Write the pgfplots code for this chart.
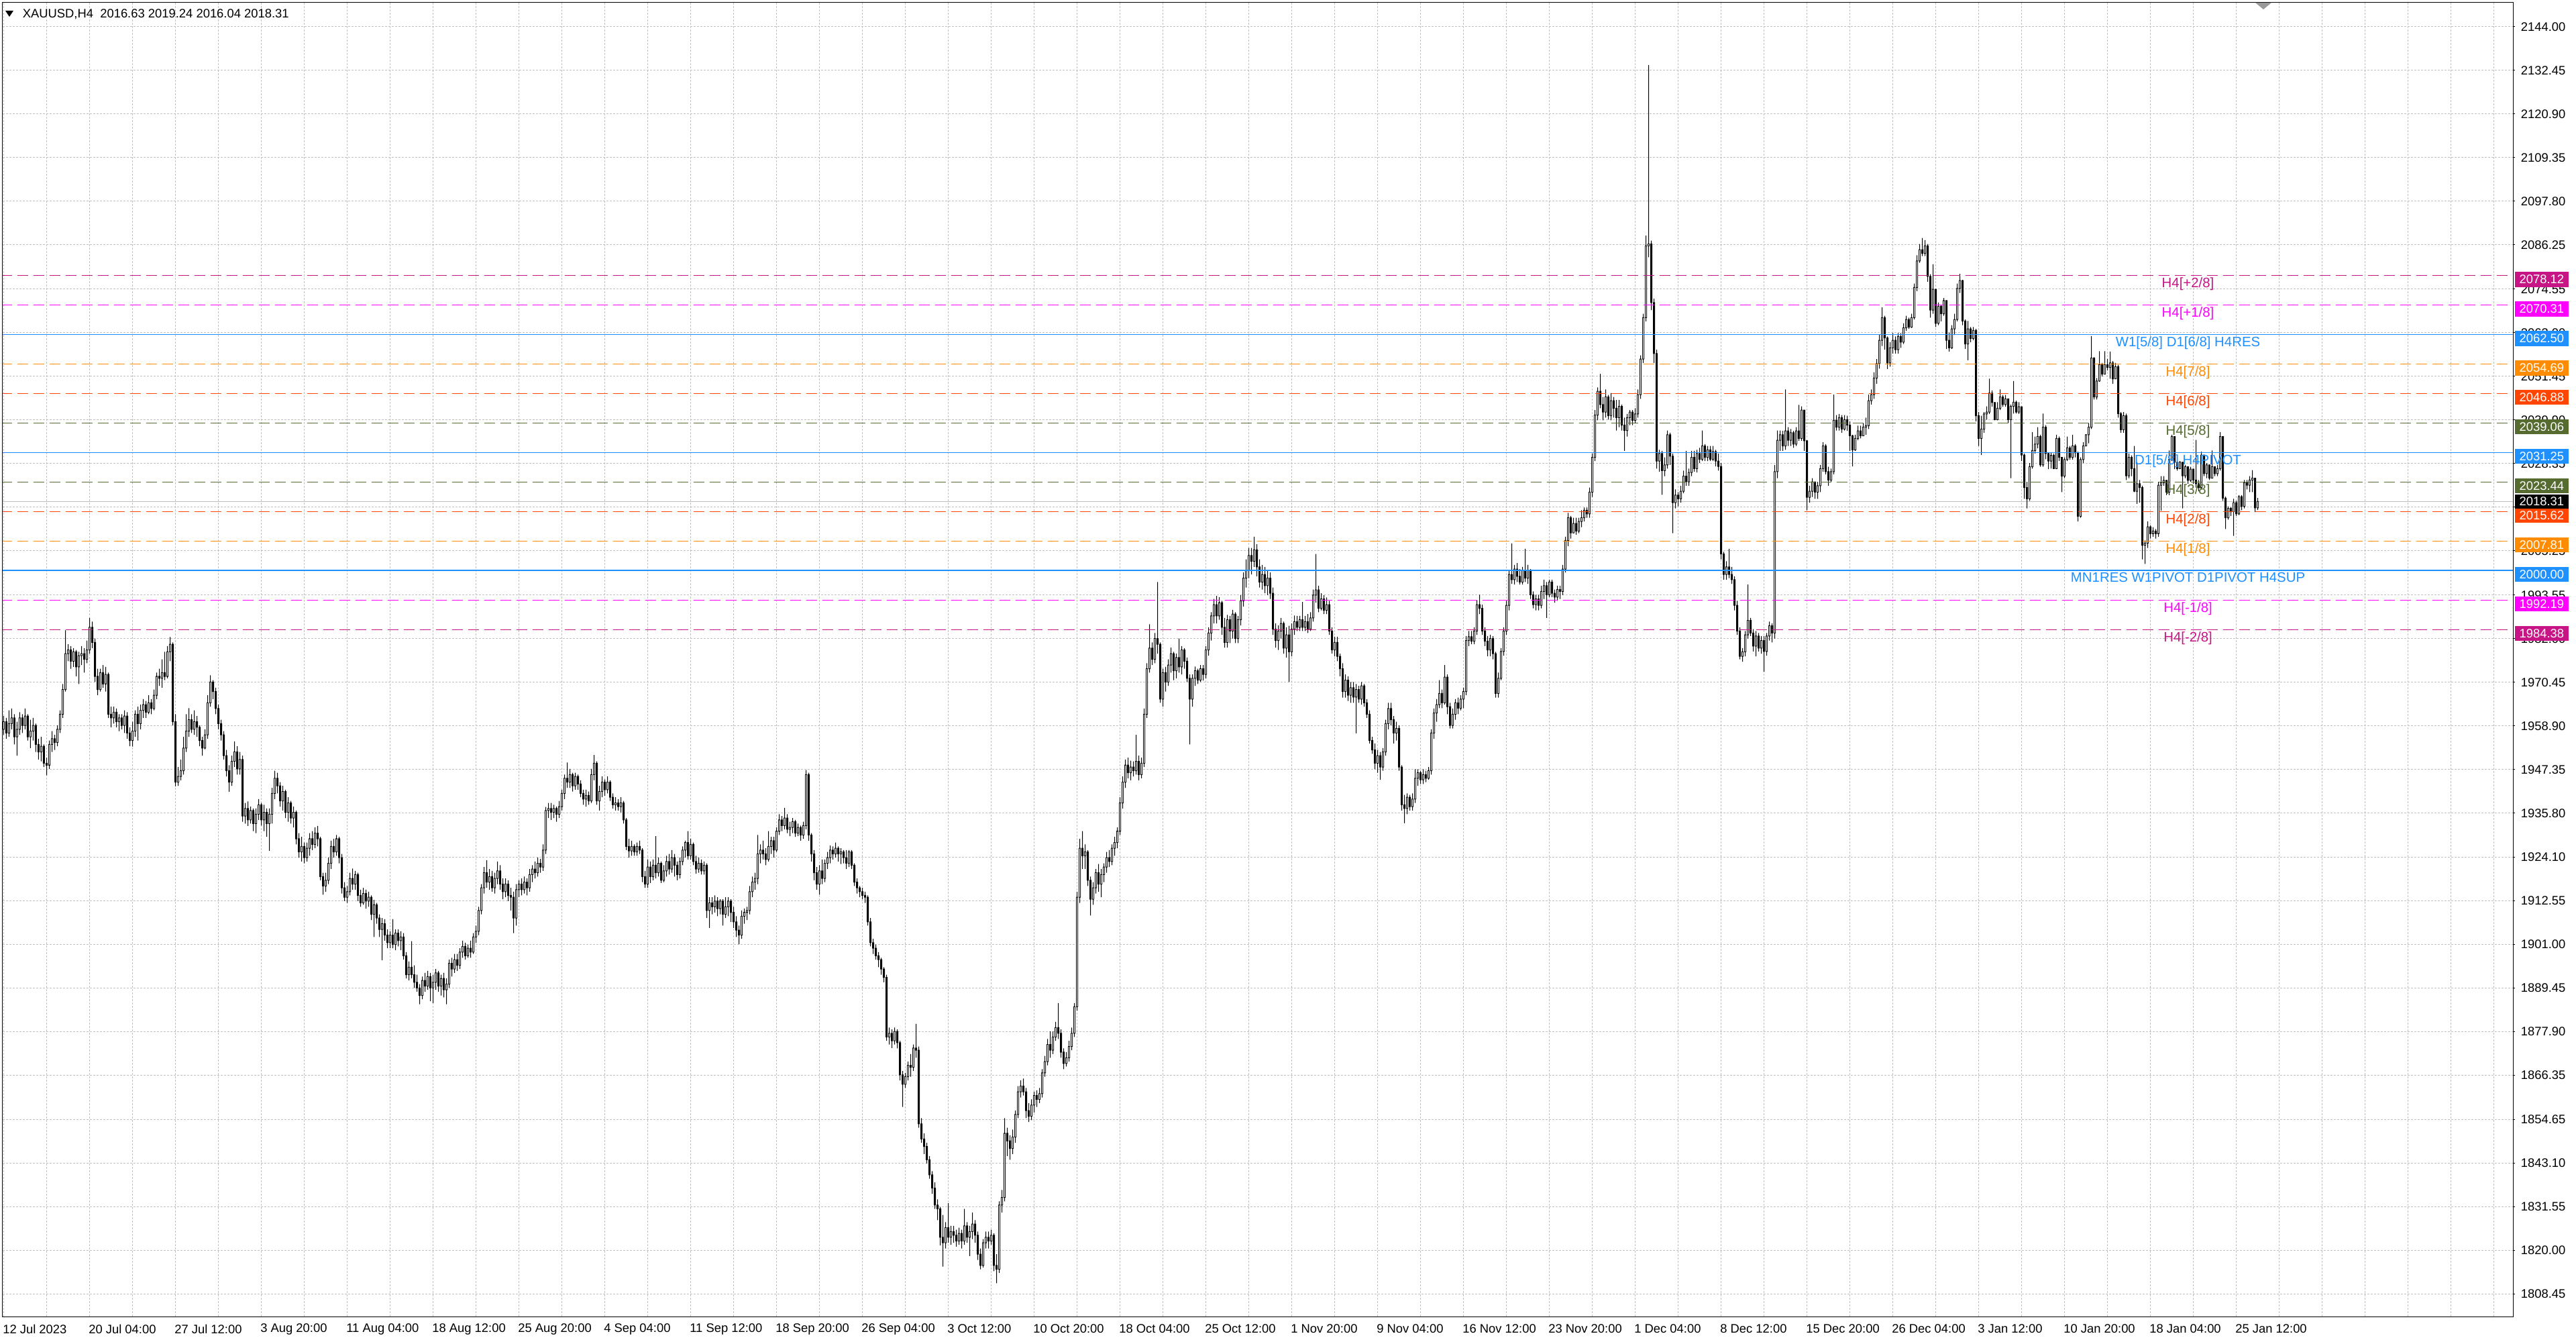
\documentclass[border=0pt]{standalone}
\usepackage{fontspec}
\setmainfont{Liberation Sans}
\usepackage{pgfplots}
\usepackage{pgfplotstable}
\pgfplotsset{compat=1.18}

\definecolor{mvred}{HTML}{C71585}
\definecolor{mag}{HTML}{FF00FF}
\definecolor{dblue}{HTML}{1E90FF}
\definecolor{dorange}{HTML}{FF8C00}
\definecolor{ored}{HTML}{FF4500}
\definecolor{olive}{HTML}{556B2F}
\definecolor{gridc}{HTML}{C0C0C0}

\newcommand{\tkfont}{\fontsize{4.6pt}{5.5pt}\selectfont}
\newcommand{\lvfont}{\fontsize{5.1pt}{6pt}\selectfont}

\pgfplotsset{
    base/.style={scale only axis, width=935.5pt, height=489.5pt,
        at={(0pt,0pt)}, anchor=south west, enlargelimits=false,
        xmin=-0.375, xmax=935.125, ymin=1802.49, ymax=2150.39},
    stackaxis/.style={base, hide axis, ybar stacked, bar shift=0pt},
    lvl/.style={forget plot, line width=0.25pt, dash pattern=on 4pt off 2pt},
}
\tikzset{
    lbl/.style={anchor=north, inner sep=0pt, yshift=-0.6pt, font=\lvfont},
    pbox/.style={fill=#1, text=white, anchor=west, inner sep=0pt,
        minimum width=20pt, minimum height=5.65pt, font=\tkfont},
}

% XAUUSD H4, one row per bar: high low close (open = close of the bar before)
\pgfplotstableread[row sep=\\]{
h l c\\
1961.5 1956.5 1960\\ 1961 1955.5 1957\\ 1963 1956 1959.5\\ 1963.5 1958 1961\\ 1962 1954 1956\\ 1960 1951 1958\\ 1962.5 1956.5 1961\\ 1962 1957 1959\\ 1963.5 1958 1961.5\\ 1962 1955 1956\\
1960.5 1953 1957.5\\ 1961 1955 1959\\ 1959.5 1952 1954\\ 1955.5 1950 1952\\ 1956 1949.5 1953.5\\ 1954 1948 1949\\ 1950.5 1945.8 1948.5\\ 1955 1947.5 1954\\ 1957.5 1952 1955.5\\ 1956.5 1952.5 1954.5\\
1959 1953.5 1958\\ 1963 1957 1962\\ 1970 1961 1968.5\\ 1984.2 1968 1978\\ 1980.5 1976 1979\\ 1980 1974 1976\\ 1979.5 1974.5 1978.5\\ 1979 1972 1974.5\\ 1978.5 1970 1977.5\\ 1980 1975 1978\\
1979.5 1973 1976.5\\ 1981.5 1975.5 1979\\ 1987.5 1978 1985\\ 1986.5 1979.5 1981\\ 1982 1970.5 1972\\ 1974 1967 1968.5\\ 1974 1968 1973\\ 1975 1969 1970\\ 1974.5 1968 1972.5\\ 1973 1961 1962\\
1964 1958.5 1961\\ 1964 1959.5 1962.5\\ 1963.5 1958.5 1960\\ 1962 1957.5 1961\\ 1962 1958 1959\\ 1963 1957 1961.5\\ 1962.5 1955.5 1957\\ 1958.5 1953.5 1955\\ 1960 1953.4 1957.5\\ 1963 1956 1962\\
1964 1955 1959.5\\ 1964.5 1958 1963\\ 1966 1961 1964.5\\ 1965.5 1961 1962.5\\ 1967 1962 1965\\ 1966 1962 1963.5\\ 1968.5 1963 1967\\ 1973 1966 1972\\ 1974 1969.5 1971.5\\ 1976.5 1969 1973\\
1978.5 1971 1972\\ 1980 1971.5 1978.5\\ 1982.4 1976 1980.5\\ 1981 1959 1960\\ 1962 1942.9 1944\\ 1948 1943 1945.5\\ 1950 1944.5 1947\\ 1956 1946 1953\\ 1962 1952 1957.5\\ 1963.6 1956 1960.5\\
1962 1957 1958\\ 1963 1956.5 1960\\ 1961.5 1956 1958.5\\ 1959 1953.5 1955\\ 1956 1951 1953\\ 1958 1952.7 1956.5\\ 1967 1955.5 1965\\ 1972.3 1964 1970.5\\ 1971 1966 1968\\ 1969 1962 1963.5\\
1964.5 1958 1959.5\\ 1960.5 1955 1956.5\\ 1957.5 1950 1951\\ 1952.5 1945.5 1947\\ 1948.5 1941.4 1944\\ 1951 1943 1949.5\\ 1954.8 1948 1952\\ 1953.5 1946 1947.5\\ 1952 1946 1950\\ 1951 1933.5 1935\\
1938.5 1933 1937\\ 1938.9 1932.4 1934\\ 1937.5 1933 1936.5\\ 1937 1931 1933\\ 1937 1930.5 1935.5\\ 1939.5 1934 1938\\ 1938.5 1932.5 1934\\ 1938 1931 1936\\ 1937 1929.5 1933\\ 1937 1925.8 1935.5\\
1942.5 1933 1941\\ 1947 1939.5 1945\\ 1946.5 1941 1943\\ 1944 1937.5 1939\\ 1943 1936.5 1941.5\\ 1942 1934.5 1936\\ 1940 1933.5 1938.5\\ 1939 1933 1934.5\\ 1937.5 1932 1936\\ 1936.5 1927.5 1929\\
1930.5 1924 1925.5\\ 1929.5 1923 1927\\ 1928 1922.5 1924\\ 1928 1923 1926.5\\ 1930.5 1924.5 1929\\ 1931 1926 1927.5\\ 1932 1926.5 1930.5\\ 1932.4 1927 1929\\ 1929.5 1918 1919\\ 1920 1914.2 1916.5\\
1920 1915 1918\\ 1924 1917 1922.5\\ 1928.5 1921 1927\\ 1929 1924 1925.5\\ 1930 1924.5 1929\\ 1929.5 1922.5 1924\\ 1925 1914.5 1916\\ 1917.5 1912.5 1913.5\\ 1916.5 1912 1915\\ 1920 1914 1918.5\\
1921.1 1915.5 1917\\ 1920.5 1915.5 1919.5\\ 1920 1912.5 1914\\ 1915.5 1911 1912\\ 1916 1911.5 1914.5\\ 1915.5 1910.5 1912.5\\ 1915 1911 1913.5\\ 1914 1907.5 1909\\ 1912.8 1903 1911.5\\ 1912 1906.5 1908\\
1909 1903 1905\\ 1908 1896.8 1906.5\\ 1907.7 1902 1903.5\\ 1905 1900 1901.5\\ 1904.5 1900 1903.5\\ 1907.7 1900 1901\\ 1905 1899.5 1904\\ 1905 1900.5 1902\\ 1904.5 1899.5 1903\\ 1904 1897 1898\\
1899 1892 1893\\ 1896.5 1891.5 1895\\ 1901.9 1892 1893\\ 1895.5 1889.5 1891\\ 1893 1888.5 1889.5\\ 1890.5 1885.2 1887.5\\ 1892.5 1886.5 1891.5\\ 1893.5 1888.5 1890\\ 1894 1889 1892.5\\ 1893.5 1886 1889.5\\
1893 1885.5 1891\\ 1894.5 1889 1893.5\\ 1894 1888.5 1890\\ 1893 1887.5 1892\\ 1893.5 1887 1889\\ 1892 1885.2 1890.5\\ 1897 1889.5 1896\\ 1897.5 1892.5 1894.5\\ 1898.5 1893.5 1897\\ 1898.5 1894 1895.5\\
1900 1894.5 1899\\ 1902 1897.5 1900.5\\ 1901.5 1897 1898\\ 1901 1897.5 1900\\ 1902 1897.5 1899\\ 1904 1898.5 1903\\ 1906 1901.5 1904.5\\ 1911 1903.5 1910\\ 1917 1909 1916\\ 1921.5 1914.5 1920\\
1923.3 1916 1917.5\\ 1921 1915.5 1919\\ 1920.5 1915 1916\\ 1920 1914.5 1918.5\\ 1923 1917 1920.5\\ 1922 1915.5 1917\\ 1918.5 1913 1915\\ 1918.5 1913.5 1917\\ 1918 1912.5 1914\\ 1916 1910 1913.5\\
1915 1904 1908\\ 1917 1906 1915.5\\ 1918 1913.5 1917\\ 1918.5 1914 1915.5\\ 1919 1914.5 1917.5\\ 1918.5 1914 1916\\ 1921 1915 1919.5\\ 1922 1917.5 1921\\ 1923 1918.5 1920\\ 1924 1919 1922.5\\
1923.7 1920 1921.5\\ 1927.5 1920.5 1926\\ 1937.4 1925 1936.5\\ 1938.5 1934.5 1937\\ 1938.5 1934 1936\\ 1938 1934.5 1937\\ 1937.5 1933.5 1935.5\\ 1939 1934.5 1937.5\\ 1942 1936.5 1941\\ 1946 1939.5 1945\\
1949.2 1942.5 1944\\ 1947.5 1942.5 1946\\ 1946.5 1941.5 1943\\ 1946.5 1942 1945.5\\ 1946 1942 1943.5\\ 1944.5 1940 1941\\ 1942 1938 1939.5\\ 1942 1937.5 1940.5\\ 1941.5 1938 1939\\ 1947.5 1938.5 1946\\
1951.2 1944.5 1949\\ 1949.5 1938 1939\\ 1943 1936.5 1941.5\\ 1945.5 1940 1944\\ 1944.7 1940.4 1942\\ 1945.5 1941 1944\\ 1944.5 1939 1940\\ 1941 1937 1938\\ 1940 1936.5 1938.5\\ 1939.5 1936.5 1937.5\\
1940 1936 1938.5\\ 1939 1933 1934\\ 1934.5 1926 1927\\ 1929 1924 1925.8\\ 1928.5 1924.5 1927\\ 1927.5 1924.5 1925.5\\ 1928 1924.5 1927\\ 1928.5 1925 1926\\ 1926.5 1917.5 1919\\ 1920.5 1916 1917\\
1923.5 1916 1921.5\\ 1923 1917.3 1919\\ 1923.5 1918 1922\\ 1929.7 1918.5 1920\\ 1924 1919 1922.5\\ 1923 1917.3 1918\\ 1922 1917.5 1920.5\\ 1924.5 1919 1923\\ 1925 1919.5 1921\\ 1926 1920 1924\\
1925 1919 1922\\ 1923 1918 1919.5\\ 1924 1918.5 1923\\ 1927 1922 1926\\ 1928.5 1924 1928\\ 1931 1923.5 1924.5\\ 1929 1923.5 1927.5\\ 1928 1922 1923\\ 1924.5 1919.8 1921\\ 1924 1920 1922.5\\
1923.5 1919.5 1920.5\\ 1923 1919.5 1922\\ 1922.5 1908 1910\\ 1913.5 1905.4 1912\\ 1913.5 1909 1911\\ 1914 1909.5 1912.5\\ 1913.5 1908.5 1910.5\\ 1913 1909 1912.5\\ 1913 1906 1909\\ 1913.5 1908 1911\\
1913.5 1908.5 1912.5\\ 1913 1907 1909.5\\ 1911 1905.4 1907\\ 1908.5 1903 1904.8\\ 1906 1901.1 1903.5\\ 1910 1902.5 1908.5\\ 1910.5 1906.5 1909.5\\ 1911 1907.5 1910\\ 1916.5 1909 1915\\ 1919 1913.5 1917.5\\
1920 1915.5 1918.5\\ 1930 1917 1925\\ 1927.5 1922.5 1926\\ 1928.5 1923.5 1925\\ 1926.5 1922 1923.5\\ 1931 1923 1927\\ 1929.5 1925 1928.5\\ 1929.5 1924 1926\\ 1932 1925.5 1931\\ 1935.5 1930 1934\\
1935 1931 1932.5\\ 1937.2 1931.5 1934.5\\ 1935.5 1930.5 1931.5\\ 1933.5 1929.7 1932\\ 1934.5 1930.5 1933.5\\ 1934 1929.5 1930.5\\ 1933 1929.7 1932\\ 1932.5 1928.5 1930\\ 1933.5 1929 1932.5\\ 1947.2 1931.5 1946\\
1946.5 1928.5 1930\\ 1930.5 1923 1925\\ 1926 1918 1920\\ 1921.5 1915.5 1917\\ 1922 1914.2 1920.5\\ 1923.5 1917 1918.5\\ 1923.5 1917.5 1922.5\\ 1925.5 1921 1924\\ 1927.2 1922.5 1926\\ 1927 1923.5 1925\\
1928 1924 1926.5\\ 1927 1923 1925\\ 1926.5 1922.3 1925.5\\ 1926 1922.5 1924\\ 1926 1921 1922.5\\ 1926 1921.5 1925.5\\ 1926 1921 1922\\ 1922.5 1916.5 1917.5\\ 1918.5 1914.5 1916\\ 1916.5 1913.5 1915\\
1916 1913 1914\\ 1915 1912 1913.5\\ 1914 1906 1907\\ 1908 1900.5 1901.5\\ 1902.5 1898.5 1900\\ 1901 1897 1898\\ 1899 1895 1897\\ 1897.5 1893 1894.5\\ 1895 1891 1892.3\\ 1893 1875.5 1876.5\\
1879 1874.5 1877.5\\ 1878.5 1873.6 1875.5\\ 1879 1874.5 1878\\ 1878.5 1873.5 1875\\ 1875.5 1865 1866.5\\ 1867.5 1858 1864\\ 1867 1863 1866\\ 1870 1865 1869\\ 1872 1866 1868.5\\ 1874.5 1867.5 1873.6\\
1880 1871 1873\\ 1874 1852.5 1853.5\\ 1855 1848.5 1849.5\\ 1851 1845.5 1847.5\\ 1848.5 1843 1844\\ 1845 1839 1840\\ 1841 1835 1836.5\\ 1838 1831 1832\\ 1833.5 1828 1831\\ 1831.5 1821.3 1823.5\\
1829.4 1815.7 1822\\ 1827.5 1820.5 1826\\ 1832.5 1822 1823.5\\ 1826.5 1821.5 1825\\ 1826.5 1822 1824\\ 1825.5 1821 1822.5\\ 1826 1821.5 1824.5\\ 1825.5 1820.5 1822.5\\ 1831 1821.5 1826.5\\ 1827.5 1822 1823.5\\
1826.5 1818.5 1825\\ 1830 1823 1827\\ 1828 1822 1824\\ 1825 1817.5 1819\\ 1820.5 1815 1816\\ 1823 1815.5 1822\\ 1825 1820.5 1823.5\\ 1825 1820.5 1822.5\\ 1825.5 1821.5 1824\\ 1824.5 1814.5 1816\\
1819 1811.3 1815\\ 1833 1814 1832\\ 1836 1830 1834\\ 1855 1833 1851\\ 1852.5 1845 1849\\ 1850.5 1844 1847\\ 1852 1845.5 1850\\ 1857 1848.5 1856\\ 1863.5 1855 1862\\ 1865 1860.5 1863.5\\
1865.5 1861 1862\\ 1863 1855 1857\\ 1859 1854 1855.5\\ 1860 1854.5 1858.5\\ 1862 1856.5 1861\\ 1862.4 1858 1860\\ 1863 1859 1861.5\\ 1868 1860.5 1867\\ 1871.5 1866 1870\\ 1876 1869 1874.5\\
1878 1871 1873\\ 1878 1872 1876.5\\ 1880.5 1875.5 1879\\ 1885.5 1876 1877.5\\ 1878.5 1871 1872.5\\ 1873.5 1868 1869.5\\ 1872.5 1868.7 1871\\ 1875.5 1870 1874\\ 1879 1873 1877.5\\ 1885.5 1876.5 1884.5\\
1915 1883.5 1913.5\\ 1929 1912 1926.5\\ 1931 1921 1924.5\\ 1927.5 1921 1925.5\\ 1926 1916.5 1918\\ 1919 1908.7 1913\\ 1917.5 1911.5 1916\\ 1921 1914.5 1920\\ 1922.3 1915 1917\\ 1921 1913.5 1919.5\\
1922.5 1917.5 1921.5\\ 1925.5 1920 1924\\ 1926 1921.5 1923\\ 1927.5 1922 1926.5\\ 1929.5 1924.5 1928\\ 1932 1926.5 1931\\ 1940 1930 1938.5\\ 1945.5 1937 1944\\ 1950 1942.5 1948.5\\ 1950.5 1945 1946.5\\
1949.7 1944.5 1948\\ 1949.5 1945.5 1947\\ 1956.5 1946 1949.5\\ 1951 1944.5 1946\\ 1950.5 1945 1949\\ 1963.5 1948 1962\\ 1975.5 1961 1974\\ 1985.8 1973 1979.5\\ 1981 1975 1976.5\\ 1983.5 1975.5 1982\\
1997 1978 1980.5\\ 1981 1965 1966\\ 1974 1964 1973\\ 1974.5 1968 1970.5\\ 1976.5 1969.5 1975\\ 1979.6 1973 1978\\ 1978.5 1971 1973.5\\ 1978 1971.5 1977\\ 1982 1973 1974.5\\ 1980 1972.5 1979\\
1979.5 1974 1976\\ 1977 1970.5 1971.5\\ 1972.5 1954 1966\\ 1972.5 1964 1971.5\\ 1974.6 1969.5 1973.5\\ 1974 1970 1971\\ 1975 1970.5 1974\\ 1975 1970.9 1972.5\\ 1980 1971.5 1979\\ 1985 1977.5 1983.5\\
1989 1981.5 1988\\ 1992.5 1986 1991\\ 1993.3 1986 1988\\ 1993 1987 1991.5\\ 1992 1983 1985\\ 1987.5 1979.6 1981\\ 1988.3 1979.6 1987\\ 1988 1980.8 1984\\ 1989.6 1982 1988.5\\ 1989 1980.8 1982\\
1988 1980.8 1987\\ 1993.5 1985.5 1992\\ 1999.5 1990.5 1998\\ 2003 1995.5 2000\\ 2006 1998 2004\\ 2006 1999 2002.5\\ 2009 2001 2005.5\\ 2007 1998.5 2001\\ 2003 1995.5 1997\\ 2001.5 1995 1999\\
2001 1994 1996\\ 2000 1993.5 1998\\ 1999.5 1992.5 1994\\ 1995.5 1983 1984.5\\ 1986 1979.6 1981.5\\ 1985.5 1979 1984\\ 1987.5 1982 1986\\ 1986.5 1978 1979.5\\ 1985 1977 1983\\ 1985.4 1970.5 1978.5\\
1986 1977.3 1984.5\\ 1988.1 1983 1986.5\\ 1988 1984 1985\\ 1988 1984 1987\\ 1991.7 1984 1985\\ 1988 1984 1986.5\\ 1988.5 1983.5 1984.5\\ 1989 1984 1987.5\\ 1995 1986.5 1993.5\\ 2004.4 1991.5 1994.9\\
1996 1989 1990\\ 1994 1989.5 1992.5\\ 1993.5 1988.5 1989.5\\ 1992.9 1988.5 1991\\ 1992 1983 1984\\ 1985 1978 1979\\ 1982.5 1977.3 1981\\ 1982.5 1976 1977.3\\ 1978 1972 1974\\ 1975.5 1966.4 1968\\
1972.5 1966.4 1971\\ 1972 1965.5 1967\\ 1970.5 1965 1969\\ 1970.5 1965 1966.5\\ 1970 1956.9 1968.5\\ 1969.5 1965 1966\\ 1970.5 1964.5 1969.5\\ 1970 1964 1965\\ 1966 1961 1962\\ 1963 1954.2 1955\\
1956 1951.5 1952.5\\ 1954.2 1947.4 1949\\ 1952.5 1946.5 1951\\ 1952 1944.6 1948\\ 1953 1947 1952\\ 1960.5 1951 1959.5\\ 1965 1958 1963.5\\ 1965 1959 1960.5\\ 1961.5 1954.2 1957\\ 1960 1955 1958.2\\
1959 1947 1948\\ 1948.5 1936.5 1938\\ 1940.6 1933.1 1937\\ 1941 1935.5 1940\\ 1940.6 1936.5 1937.5\\ 1941 1936.5 1939.5\\ 1947.4 1938.5 1945\\ 1947.4 1943 1946.5\\ 1947 1943.5 1944.6\\ 1947.4 1943.5 1946\\
1947 1944 1945\\ 1948 1944.6 1947\\ 1958 1946 1957\\ 1963.5 1955.5 1962.3\\ 1966 1960 1964.5\\ 1971 1963.6 1967.5\\ 1968.5 1963.6 1965\\ 1975 1964.5 1971.8\\ 1972.5 1962 1964\\ 1965 1958.2 1959\\
1963.5 1958.2 1962\\ 1966 1960.5 1965\\ 1966.4 1962 1963.6\\ 1967 1963 1966\\ 1969 1963.6 1968\\ 1982.7 1967 1981.5\\ 1984 1980 1982.5\\ 1984 1980.5 1981.3\\ 1985 1980.5 1984\\ 1992.2 1983 1991\\
1993.6 1988.5 1990\\ 1991 1983 1984\\ 1985 1980 1981.3\\ 1982.7 1977.3 1979\\ 1983 1977.3 1982\\ 1982.7 1976.5 1978\\ 1978.5 1966.4 1967.5\\ 1973 1966.4 1971.5\\ 1979.5 1971 1978.6\\ 1985 1977.5 1984\\
1992 1983 1990.8\\ 2000 1989.5 1999\\ 2007.2 1996.5 1997.6\\ 2001.5 1996.3 2000.4\\ 2002 1997 1998.5\\ 2000.4 1996.3 1997\\ 2001 1996.3 2000\\ 2005.8 1997 1998\\ 2001.5 1996.5 2000\\ 2000.4 1992.5 1993.6\\
1994.5 1990 1991\\ 1993.6 1989.5 1992.5\\ 1993.6 1989.5 1990.8\\ 1996 1990 1994.5\\ 1997.6 1992.5 1996\\ 1997 1987.5 1993.6\\ 1997.6 1993 1997\\ 1997.6 1993 1994\\ 1995 1991.5 1993\\ 1996 1992 1995\\
1996 1992.5 1994.5\\ 2001.5 1993.5 2000.4\\ 2009 1999.5 2008\\ 2015.3 2006.5 2014\\ 2014.5 2008.5 2010\\ 2014 2009.9 2012.5\\ 2014 2009.5 2010.5\\ 2014 2009.9 2013\\ 2016 2011.5 2014\\ 2016.7 2013 2016\\
2016.7 2014 2015\\ 2022 2014 2020.8\\ 2031 2019.5 2030\\ 2042.5 2029 2041.2\\ 2048.5 2039.8 2047.5\\ 2052.1 2043 2044\\ 2046 2039.8 2042\\ 2048 2040.5 2046\\ 2046.5 2040 2041\\ 2047 2039.8 2045\\
2046 2040.5 2043\\ 2045.2 2037.1 2040.5\\ 2045.2 2038 2043.5\\ 2044 2037.1 2038.5\\ 2040.5 2031.7 2037.1\\ 2041.5 2035.5 2040.5\\ 2042.5 2038.5 2042\\ 2042.5 2038.5 2039.8\\ 2043 2039 2041.5\\ 2048 2040.5 2046.6\\
2057 2045.5 2056\\ 2068 2055 2067\\ 2088.7 2066 2086\\ 2133.9 2083 2086.5\\ 2087.4 2069 2071\\ 2072 2055 2057.5\\ 2058.5 2027 2029\\ 2032 2026.2 2031\\ 2031.7 2020.1 2026.5\\ 2030 2025 2028\\
2037.1 2027 2036\\ 2036.5 2028 2030.3\\ 2031 2009.9 2018\\ 2021.5 2016.5 2020\\ 2020.8 2017 2019\\ 2022.5 2018 2021\\ 2026.5 2020.5 2025\\ 2031.7 2022.5 2023.5\\ 2027 2022.5 2026\\ 2031.7 2025 2030\\
2031.7 2026.2 2027\\ 2032 2026 2031\\ 2032.5 2028.5 2029.5\\ 2037.1 2029 2033\\ 2033.5 2029 2030\\ 2033 2029 2032\\ 2033 2029 2029.5\\ 2033 2029 2031.5\\ 2032 2027.6 2029\\ 2031 2026.5 2027.6\\
2028.5 2003 2004.4\\ 2005 1997.6 1999\\ 2002.5 1997.6 2001\\ 2005.8 1998 1999\\ 2001 1996.5 1997.6\\ 1998.5 1989.5 1990.8\\ 1992 1983 1984\\ 1985 1976.5 1977.3\\ 1979.5 1975.9 1978.5\\ 1984 1977.3 1983\\
1996.3 1982 1986.8\\ 1987.5 1982.7 1983.5\\ 1984.5 1978.6 1980\\ 1984 1977.3 1982.7\\ 1983.5 1978.6 1979.5\\ 1982.7 1978 1981.5\\ 1982.7 1973.2 1978.6\\ 1983.5 1977.5 1982.7\\ 1986.5 1981.5 1985.4\\ 1986 1981 1983.5\\
2028 1982 2026.2\\ 2037.1 2024.5 2034.5\\ 2037.1 2031.7 2036\\ 2037 2031.7 2033\\ 2048 2032 2037\\ 2038 2033 2034.5\\ 2037.5 2033 2036.5\\ 2037 2032.5 2033.5\\ 2038 2033 2037\\ 2043.9 2034.4 2035\\
2043.5 2034.4 2042.5\\ 2042.5 2031.7 2034.4\\ 2034.5 2016 2019.4\\ 2022.5 2018 2021\\ 2024.5 2019.5 2023.5\\ 2023.5 2019 2020.8\\ 2023.5 2019 2022.5\\ 2028 2020.8 2027\\ 2034 2026.2 2033\\ 2033.5 2025.5 2026.2\\
2027.5 2022.5 2024\\ 2027 2023.5 2026.2\\ 2046.6 2025.5 2039.8\\ 2041.2 2037.1 2038\\ 2041.5 2037.1 2040.5\\ 2041.2 2036.5 2037.5\\ 2041.2 2037.1 2040\\ 2041 2037 2038.5\\ 2039.5 2031.7 2035.7\\ 2036 2027.6 2032\\
2036 2031.7 2035\\ 2038.4 2034.5 2037\\ 2038.4 2035 2035.7\\ 2039 2035.7 2038\\ 2040.5 2036 2038.4\\ 2046.6 2037.5 2045\\ 2048 2044 2046.6\\ 2052.5 2045.5 2051\\ 2056 2049.5 2054.8\\ 2062.5 2053.5 2061\\
2069.7 2059.5 2067\\ 2067.5 2058.5 2061.6\\ 2062 2053.4 2055\\ 2060.5 2054 2059\\ 2062.9 2057.5 2061\\ 2062 2057.5 2058.5\\ 2062.9 2057.5 2062\\ 2062.9 2059 2060.5\\ 2065.5 2060 2064.3\\ 2067.5 2063.5 2066.5\\
2067 2064 2064.5\\ 2068 2064.3 2067\\ 2076 2066.5 2075\\ 2083.5 2074 2082\\ 2086.5 2081.5 2085\\ 2088.1 2083.3 2084\\ 2087.5 2083.3 2086\\ 2086.5 2076.5 2077.9\\ 2078.5 2067 2069\\ 2081.1 2068 2074.5\\
2074 2064.5 2065.5\\ 2071 2065 2070\\ 2070.4 2066 2068\\ 2072.2 2067.5 2071.5\\ 2071.5 2058.7 2061\\ 2063 2058 2059\\ 2065 2058.7 2064\\ 2068 2062.4 2066.5\\ 2076 2066 2074.7\\ 2078.6 2073.5 2076.8\\
2077 2065 2066.1\\ 2066.5 2058.7 2060\\ 2066.1 2055.7 2064\\ 2064.5 2060.5 2061.5\\ 2064.5 2061 2063.6\\ 2064 2039.5 2041\\ 2042 2033 2035\\ 2041 2030.6 2037.5\\ 2042 2036.5 2041.5\\ 2043.5 2040 2042\\
2050.8 2041.5 2047\\ 2047.7 2043.4 2044.5\\ 2044.6 2039.8 2040\\ 2044.6 2039.8 2043\\ 2048 2042.5 2046\\ 2046.5 2043.4 2044\\ 2046.5 2043.4 2045.5\\ 2045.5 2039.1 2040\\ 2044 2024.5 2043.5\\ 2050.2 2041.6 2044.6\\
2045 2041.6 2042\\ 2044.6 2041.5 2043.4\\ 2043.4 2029 2030.6\\ 2031 2019 2022\\ 2023.5 2016.5 2019\\ 2028.5 2018.5 2027.5\\ 2036.7 2027 2031.8\\ 2035.5 2031 2033.5\\ 2038 2032.4 2035.5\\ 2036 2027.5 2028\\
2041.6 2027.5 2038\\ 2038.5 2029.5 2031\\ 2031.2 2026.9 2029\\ 2031.2 2027 2030.5\\ 2031 2026.9 2027\\ 2036 2026.9 2035\\ 2035.5 2029 2030\\ 2030 2020.8 2025\\ 2030 2024.5 2029.4\\ 2035.5 2029 2032.5\\
2033 2029.4 2030\\ 2036 2029.4 2033\\ 2033.5 2030 2031.2\\ 2031.5 2013 2014.4\\ 2030 2014 2029.4\\ 2034 2028.5 2033\\ 2036.1 2033 2036\\ 2039 2033.7 2038\\ 2062.1 2037.5 2056.3\\ 2056.5 2045.3 2046\\
2051 2045.3 2050.2\\ 2058.1 2050 2054.5\\ 2055 2051.4 2052\\ 2058.1 2052 2054.5\\ 2056 2053 2053.8\\ 2058 2050.8 2055\\ 2055.5 2049.5 2050.8\\ 2055 2050.8 2054\\ 2054.5 2040.5 2041.6\\ 2042 2036.5 2037.3\\
2042 2036.5 2041\\ 2041.6 2024 2025.1\\ 2031 2024.5 2030\\ 2030.5 2025 2027\\ 2033 2020.8 2021\\ 2028.7 2017.7 2023\\ 2024 2018 2022\\ 2022.5 2003 2006.7\\ 2008 2001.8 2007.3\\ 2013 2006 2011.6\\
2012 2008.5 2009.8\\ 2011.5 2009 2010.5\\ 2011 2008.5 2009.8\\ 2023.5 2009 2022.6\\ 2025 2015.9 2023.3\\ 2025 2022.5 2023.9\\ 2024 2020 2020.8\\ 2031.8 2020 2029.4\\ 2036 2029 2035.5\\ 2035.5 2026.9 2028.7\\
2029.5 2026.5 2027\\ 2029 2026.9 2028.7\\ 2028.7 2016.5 2025.1\\ 2028 2024.5 2027.5\\ 2027.5 2023 2023.9\\ 2027.5 2023.5 2026.9\\ 2027 2023 2024\\ 2034.6 2022 2023\\ 2024 2021 2022\\ 2031.5 2021.5 2030.6\\
2030.6 2025 2025.7\\ 2028.5 2024.5 2028\\ 2028.1 2024 2024.5\\ 2031.8 2024.5 2027.5\\ 2027.5 2025 2025.7\\ 2028 2025 2027\\ 2036.7 2026.5 2035.5\\ 2035.5 2018.5 2019.2\\ 2019.6 2011 2014\\ 2017 2013.5 2016.5\\
2016.8 2014.5 2015.6\\ 2019 2009.2 2018\\ 2018.5 2014.5 2015\\ 2020 2014.7 2019.6\\ 2020 2016 2017\\ 2024 2016.5 2023.3\\ 2024 2021.5 2022.6\\ 2025 2020.8 2024\\ 2026.6 2020.8 2024.5\\ 2024.5 2015.5 2016.63\\
2019.24 2016.04 2018.31\\
}\candles
\pgfplotstablecreatecol[create col/assign/.code={%
    \getprevrow{c}\prevc
    \ifx\prevc\empty\def\prevc{1958}\fi
    \pgfkeyslet{/pgfplots/table/create col/next content}\prevc}]{o}\candles

\begin{document}
\begin{tikzpicture}
\useasboundingbox (-1pt,-8.5pt) rectangle (959pt,490.5pt);
\fill[white] (-1pt,-8.5pt) rectangle (959pt,490.5pt);

% frame, grid and scales
\begin{axis}[base,
    axis line style={line width=0.25pt, black},
    xtick={0,32,...,928},
    xticklabels={12 Jul 2023,20 Jul 04:00,27 Jul 12:00,3 Aug 20:00,11 Aug 04:00,18 Aug 12:00,25 Aug 20:00,4 Sep 04:00,11 Sep 12:00,18 Sep 20:00,26 Sep 04:00,3 Oct 12:00,10 Oct 20:00,18 Oct 04:00,25 Oct 12:00,1 Nov 20:00,9 Nov 04:00,16 Nov 12:00,23 Nov 20:00,1 Dec 04:00,8 Dec 12:00,15 Dec 20:00,26 Dec 04:00,3 Jan 12:00,10 Jan 20:00,18 Jan 04:00,25 Jan 12:00,{},{},{}},
    minor xtick={16,48,...,912},
    ytick={1808.45,1820.00,1831.55,1843.10,1854.65,1866.35,1877.90,1889.45,1901.00,1912.55,1924.10,1935.80,1947.35,1958.90,1970.45,1982.00,1993.55,2005.25,2016.80,2028.35,2039.90,2051.45,2063.00,2074.55,2086.25,2097.80,2109.35,2120.90,2132.45,2144.00},
    yticklabels={1808.45,1820.00,1831.55,1843.10,1854.65,1866.35,1877.90,1889.45,1901.00,1912.55,1924.10,1935.80,1947.35,1958.90,1970.45,1982.00,1993.55,2005.25,2016.80,2028.35,2039.90,2051.45,2063.00,2074.55,2086.25,2097.80,2109.35,2120.90,2132.45,2144.00},
    ytick pos=right, yticklabel pos=right, xtick pos=bottom,
    tick align=outside, major tick length=0.75pt, minor tick length=0pt,
    xtick style={draw=none}, ytick style={line width=0.25pt, black},
    grid=both,
    major grid style={gridc, line width=0.25pt, dash pattern=on 0.75pt off 0.5pt},
    minor grid style={gridc, line width=0.25pt, dash pattern=on 0.75pt off 0.5pt},
    tick label style={font=\tkfont, inner sep=0pt, text=black},
    xticklabel style={anchor=west, xshift=-0.5pt, yshift=-3.9pt},
    yticklabel style={anchor=west, xshift=2pt},
]
% bid line
\addplot[forget plot, gridc, line width=0.25pt] coordinates {(-1,2018.31) (936,2018.31)};
\end{axis}

% wicks: invisible bar up to the low, black bar from low to high
\begin{axis}[stackaxis]
\addplot[draw=none, fill=none, bar width=0.25pt]
    table[x expr=\coordindex, y expr=\thisrow{l}] \candles;
\addplot[draw=none, fill=black, bar width=0.25pt]
    table[x expr=\coordindex, y expr=\thisrow{h}-\thisrow{l}] \candles;
\end{axis}
% bodies: from open to close
\begin{axis}[stackaxis]
\addplot[draw=none, fill=none, bar width=0.75pt]
    table[x expr=\coordindex, y expr={min(\thisrow{o},\thisrow{c})-0.09}] \candles;
\addplot[draw=none, fill=black, bar width=0.75pt]
    table[x expr=\coordindex, y expr={abs(\thisrow{c}-\thisrow{o})+0.18}] \candles;
\end{axis}
% hollow inside of rising bars
\begin{axis}[stackaxis]
\addplot[draw=none, fill=none, bar width=0.25pt]
    table[x expr=\coordindex, y expr={min(\thisrow{o},\thisrow{c})+0.09}] \candles;
\addplot[draw=none, fill=white, bar width=0.25pt]
    table[x expr=\coordindex, y expr={(\thisrow{c}>\thisrow{o})*max(\thisrow{c}-\thisrow{o}-0.18,0)}] \candles;
\end{axis}

% Murrey math / pivot levels
\begin{axis}[base, hide axis]
\addplot[lvl, mvred] coordinates {(-1,2078.12) (936,2078.12)};
\addplot[lvl, mag] coordinates {(-1,2070.31) (936,2070.31)};
\addplot[forget plot, line width=0.25pt, dblue] coordinates {(-1,2062.5) (936,2062.5)};
\addplot[lvl, dorange] coordinates {(-1,2054.69) (936,2054.69)};
\addplot[lvl, ored] coordinates {(-1,2046.88) (936,2046.88)};
\addplot[lvl, olive] coordinates {(-1,2039.06) (936,2039.06)};
\addplot[forget plot, line width=0.25pt, dblue] coordinates {(-1,2031.25) (936,2031.25)};
\addplot[lvl, olive] coordinates {(-1,2023.44) (936,2023.44)};
\addplot[lvl, ored] coordinates {(-1,2015.62) (936,2015.62)};
\addplot[lvl, dorange] coordinates {(-1,2007.81) (936,2007.81)};
\addplot[forget plot, line width=0.5pt, dblue] coordinates {(-1,2000) (936,2000)};
\addplot[lvl, mag] coordinates {(-1,1992.19) (936,1992.19)};
\addplot[lvl, mvred] coordinates {(-1,1984.38) (936,1984.38)};

\node[lbl, text=mvred] at (axis cs:814,2078.12) {H4[+2/8]};
\node[lbl, text=mag] at (axis cs:814,2070.31) {H4[+1/8]};
\node[lbl, text=dblue] at (axis cs:814,2062.5) {W1[5/8] D1[6/8] H4RES};
\node[lbl, text=dorange] at (axis cs:814,2054.69) {H4[7/8]};
\node[lbl, text=ored] at (axis cs:814,2046.88) {H4[6/8]};
\node[lbl, text=olive] at (axis cs:814,2039.06) {H4[5/8]};
\node[lbl, text=dblue] at (axis cs:814,2031.25) {D1[5/8] H4PIVOT};
\node[lbl, text=olive] at (axis cs:814,2023.44) {H4[3/8]};
\node[lbl, text=ored] at (axis cs:814,2015.62) {H4[2/8]};
\node[lbl, text=dorange] at (axis cs:814,2007.81) {H4[1/8]};
\node[lbl, text=dblue] at (axis cs:814,2000) {MN1RES W1PIVOT D1PIVOT H4SUP};
\node[lbl, text=mag] at (axis cs:814,1992.19) {H4[-1/8]};
\node[lbl, text=mvred] at (axis cs:814,1984.38) {H4[-2/8]};

\coordinate (pA) at (axis cs:935.125,2078.12);
\coordinate (pB) at (axis cs:935.125,2070.31);
\coordinate (pC) at (axis cs:935.125,2062.5);
\coordinate (pD) at (axis cs:935.125,2054.69);
\coordinate (pE) at (axis cs:935.125,2046.88);
\coordinate (pF) at (axis cs:935.125,2039.06);
\coordinate (pG) at (axis cs:935.125,2031.25);
\coordinate (pH) at (axis cs:935.125,2023.44);
\coordinate (pI) at (axis cs:935.125,2018.31);
\coordinate (pJ) at (axis cs:935.125,2015.62);
\coordinate (pK) at (axis cs:935.125,2007.81);
\coordinate (pL) at (axis cs:935.125,2000);
\coordinate (pM) at (axis cs:935.125,1992.19);
\coordinate (pN) at (axis cs:935.125,1984.38);
\end{axis}

% price tags on the right scale
\node[pbox=mvred] at ([xshift=0.5pt,yshift=-1.4pt]pA) {2078.12};
\node[pbox=mag] at ([xshift=0.5pt,yshift=-1.4pt]pB) {2070.31};
\node[pbox=dblue] at ([xshift=0.5pt,yshift=-1.4pt]pC) {2062.50};
\node[pbox=dorange] at ([xshift=0.5pt,yshift=-1.4pt]pD) {2054.69};
\node[pbox=ored] at ([xshift=0.5pt,yshift=-1.4pt]pE) {2046.88};
\node[pbox=olive] at ([xshift=0.5pt,yshift=-1.4pt]pF) {2039.06};
\node[pbox=dblue] at ([xshift=0.5pt,yshift=-1.4pt]pG) {2031.25};
\node[pbox=olive] at ([xshift=0.5pt,yshift=-1.4pt]pH) {2023.44};
\node[pbox=ored] at ([xshift=0.5pt,yshift=-1.4pt]pJ) {2015.62};
\node[pbox=dorange] at ([xshift=0.5pt,yshift=-1.4pt]pK) {2007.81};
\node[pbox=dblue] at ([xshift=0.5pt,yshift=-1.4pt]pL) {2000.00};
\node[pbox=mag] at ([xshift=0.5pt,yshift=-1.4pt]pM) {1992.19};
\node[pbox=mvred] at ([xshift=0.5pt,yshift=-1.4pt]pN) {1984.38};
\node[pbox=black, minimum height=5.3pt] at ([xshift=0.5pt]pI) {2018.31};

% header and chart-shift marker
\fill[black] (1pt,486.5pt) -- (4pt,486.5pt) -- (2.5pt,484.25pt) -- cycle;
\node[anchor=west, inner sep=0pt, font=\tkfont] at (7.25pt,485.25pt)
    {XAUUSD,H4\ \ 2016.63 2019.24 2016.04 2018.31};
\fill[black!40] (839.5pt,489.5pt) -- (845.5pt,489.5pt) -- (842.5pt,487pt) -- cycle;
\end{tikzpicture}
\end{document}
